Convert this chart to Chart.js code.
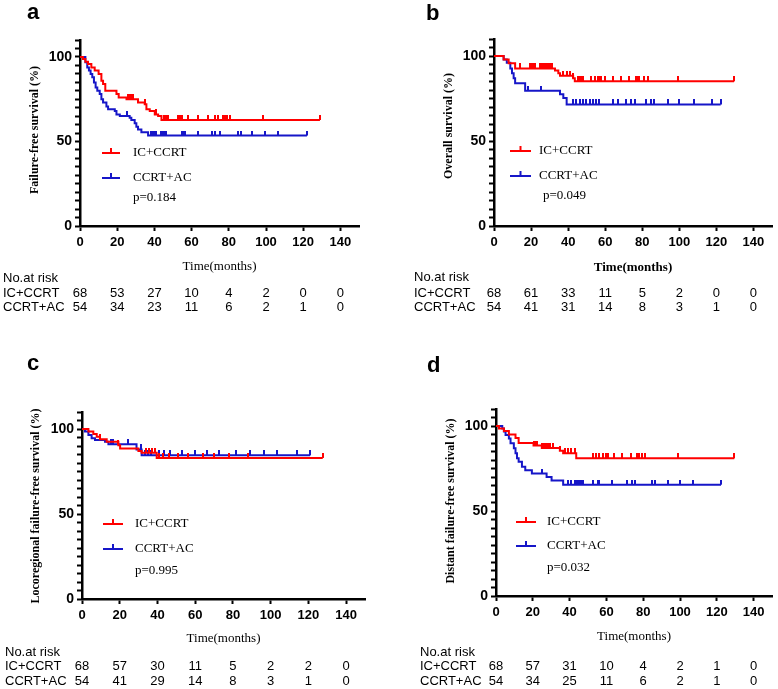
<!DOCTYPE html>
<html>
<head>
<meta charset="utf-8">
<title>Kaplan-Meier curves</title>
<script src="https://cdn.jsdelivr.net/npm/chart.js@4.4.0/dist/chart.umd.min.js"></script>
<style>
  html, body { margin: 0; padding: 0; background: #fff; }
  #wrap { position: relative; width: 778px; height: 689px; }
  canvas { position: absolute; }
</style>
</head>
<body>
<div id="wrap">
  <canvas id="chartA" width="389" height="340" style="left:0;top:0"></canvas>
  <canvas id="chartB" width="389" height="340" style="left:389px;top:0"></canvas>
  <canvas id="chartC" width="389" height="349" style="left:0;top:340px"></canvas>
  <canvas id="chartD" width="389" height="349" style="left:389px;top:340px"></canvas>
</div>
<script>
// ---- data ----
const groups = ["IC+CCRT", "CCRT+AC"];
const xTicks = [0, 20, 40, 60, 80, 100, 120, 140];

// a: failure-free survival
const ffsIcTime = [0, 1.6, 2.9, 4.3, 6.1, 7.9, 10.0, 11.5, 12.4, 13.6, 19.6, 20.8, 25, 31.2, 34.8, 35.7, 37.5, 40.2, 42, 43.8, 129];
const ffsIcSurv = [100, 98.8, 97.2, 95.8, 93.8, 91.9, 89.9, 85.9, 84, 80, 78, 76, 75, 73, 72, 69, 68, 66, 65, 62.7, 62.7];
const ffsIcCens = [26, 27, 27.6, 28.4, 35, 41, 45, 46, 47.5, 52.7, 53.6, 54.6, 58, 63.5, 69, 72.5, 74.3, 77, 78, 79, 80.5, 98.6, 129];
const ffsAcTime = [0, 2.9, 3.9, 4.8, 5.7, 6.6, 7.5, 8.4, 9.3, 10.6, 11.5, 12.4, 14.2, 15.1, 18.7, 19.6, 21.4, 26.7, 27.6, 29.4, 30.3, 31.2, 33, 36.6, 122];
const ffsAcSurv = [100, 96.8, 93.8, 91.9, 89.9, 87.9, 84.9, 81.9, 80, 78, 75, 73, 70.6, 69, 68, 66, 65, 64, 62.7, 60.7, 58.7, 57.1, 55.5, 53.5, 53.5];
const ffsAcCens = [25, 38.4, 39.3, 40.2, 41, 43.8, 44.7, 45.6, 46.5, 54.6, 55.5, 56.4, 63.5, 70.7, 72.5, 75.2, 85, 86.8, 92.3, 99.4, 106.6, 122];
const ffsRiskIc = [68, 53, 27, 10, 4, 2, 0, 0];
const ffsRiskAc = [54, 34, 23, 11, 6, 2, 1, 0];

// b: overall survival
const osIcTime = [0, 5.2, 7.9, 11.4, 32.9, 34.7, 35.6, 42.7, 43.6, 129.5];
const osIcSurv = [100, 98, 95.7, 92.7, 91.4, 89.8, 88.4, 86.9, 85.1, 85.1];
const osIcCens = [14.1, 19.5, 20.4, 21.3, 22.2, 24.9, 25.8, 26.7, 27.6, 28.5, 29.4, 30.2, 31.1, 37.4, 39.2, 41, 42.7, 45.4, 46.3, 47.2, 48.1, 52.6, 54.4, 56.2, 57.1, 58, 59.7, 64.2, 68.7, 73.1, 76.7, 77.6, 78.5, 81.2, 83, 99.1, 129.5];
const osAcTime = [0, 5.2, 6.9, 8.8, 9.7, 10.6, 11.4, 16.8, 35.6, 37.4, 39.2, 122.3];
const osAcSurv = [100, 98, 96, 92.7, 89.8, 86.9, 84, 79.6, 77.5, 75.3, 71.5, 71.5];
const osAcCens = [18.6, 25.6, 42.6, 44.4, 46.2, 48, 49.8, 51.6, 53.3, 55.1, 56.5, 64.2, 66.9, 71.4, 74.1, 76, 82.2, 84.8, 86.6, 93.7, 99.8, 107.9, 117.8, 122.3];
const osRiskIc = [68, 61, 33, 11, 5, 2, 0, 0];
const osRiskAc = [54, 41, 31, 14, 8, 3, 1, 0];

// c: locoregional failure-free survival
const lrIcTime = [0, 3.4, 6, 7.8, 9.5, 13.1, 19.3, 20.2, 29.9, 31.6, 39.6, 127.6];
const lrIcSurv = [100, 98.5, 97, 95.5, 94, 92.5, 90.5, 88.5, 87, 86, 83, 83];
const lrIcCens = [9.5, 19.3, 34, 35.5, 37, 38.5, 41, 43, 46, 51, 56, 64, 70, 78, 88, 127.6];
const lrAcTime = [0, 1.6, 3.4, 5.1, 6.9, 12.2, 14, 28.9, 31.6, 120.9];
const lrAcSurv = [100, 98.5, 96.5, 94.5, 93.5, 92.5, 91, 88, 84.5, 84.5];
const lrAcCens = [15.5, 16.4, 24.3, 31.4, 33.2, 35, 36.7, 40.6, 43.2, 46.8, 53, 60, 66.4, 72.6, 81.4, 89.2, 96.5, 103.5, 114, 120.9];
const lrRiskIc = [68, 57, 30, 11, 5, 2, 2, 0];
const lrRiskAc = [54, 41, 29, 14, 8, 3, 1, 0];

// d: distant failure-free survival
const dmIcTime = [0, 1.6, 4.3, 7, 10.6, 12.3, 20.4, 24.9, 34.7, 36.5, 43.6, 129.5];
const dmIcSurv = [100, 98.5, 97, 95, 93, 90, 88.5, 87, 85.5, 84, 81, 81];
const dmIcCens = [20.4, 21.3, 22.2, 24.9, 25.8, 26.7, 27.6, 28.5, 29.4, 31.1, 34.7, 37.4, 39.2, 41, 42.7, 52.6, 54.4, 56.2, 58, 59.7, 60.6, 64.2, 68.7, 73.1, 76.7, 77.6, 79.4, 81.2, 99.1, 129.5];
const dmAcTime = [0, 3.4, 4.3, 5.2, 7, 7.9, 9.7, 10.6, 11.4, 12.3, 14.1, 15.9, 19.5, 27.5, 30.2, 36.5, 122.3];
const dmAcSurv = [100, 98.5, 96.7, 94.7, 92.7, 89.8, 86.9, 84, 81, 79, 76, 74, 72, 70, 68, 65.5, 65.5];
const dmAcCens = [24.9, 39.2, 41, 42.7, 43.6, 44.5, 45.4, 46.3, 47.2, 52.6, 55.3, 56.2, 63.3, 71.4, 74.1, 75.8, 84.8, 86.6, 93.7, 99.9, 107.1, 122.3];
const dmRiskIc = [68, 57, 31, 10, 4, 2, 1, 0];
const dmRiskAc = [54, 34, 25, 11, 6, 2, 1, 0];

// ---- styles ----
const RED = "#ff0000";
const BLUE = "#1616c8";
const SANS = '"Liberation Sans", Arial, sans-serif';
const SERIF = '"Liberation Serif", "Times New Roman", serif';

// small upward tick used for censored observations
function tickMark(color) {
  const c = document.createElement("canvas");
  c.width = 2;
  c.height = 10;
  const g = c.getContext("2d");
  g.fillStyle = color;
  g.fillRect(0, 0, 2, 5);
  return c;
}

function survAt(times, surv, t) {
  let s = surv[0];
  for (let i = 0; i < times.length; i++) {
    if (times[i] <= t) s = surv[i];
  }
  return s;
}

const toPoints = (times, surv) => times.map((t, i) => ({ x: t, y: surv[i] }));
const censPoints = (times, surv, cens) => cens.map(t => ({ x: t, y: survAt(times, surv, t) }));

// text, legend and risk table drawn around the plot
const kmText = {
  id: "kmText",
  afterDraw(chart, args, o) {
    const ctx = chart.ctx;
    const xs = chart.scales.x;
    ctx.save();
    ctx.fillStyle = "#000";

    ctx.font = "bold 22px " + SANS;
    ctx.textAlign = "left";
    ctx.textBaseline = "alphabetic";
    ctx.fillText(o.letter, o.letterX, o.letterY);

    // y title
    ctx.save();
    ctx.translate(o.yTitleX, o.yTitleY);
    ctx.rotate(-Math.PI / 2);
    ctx.font = "bold 12px " + SERIF;
    ctx.textAlign = "center";
    ctx.textBaseline = "middle";
    ctx.fillText(o.yTitle, 0, 0);
    ctx.restore();

    // x title
    ctx.font = (o.xTitleBold ? "bold " : "") + "13px " + SERIF;
    ctx.textAlign = "center";
    ctx.textBaseline = "middle";
    ctx.fillText("Time(months)", xs.getPixelForValue(75), o.xTitleY);

    // legend
    const colors = [RED, BLUE];
    ctx.font = "13px " + SERIF;
    ctx.textAlign = "left";
    groups.forEach((g, i) => {
      const y = o.legendY[i];
      ctx.strokeStyle = colors[i];
      ctx.lineWidth = 2;
      ctx.beginPath();
      ctx.moveTo(o.legX1, y);
      ctx.lineTo(o.legX2, y);
      const mid = (o.legX1 + o.legX2) / 2;
      ctx.moveTo(mid, y);
      ctx.lineTo(mid, y - 5);
      ctx.stroke();
      ctx.fillStyle = "#000";
      ctx.fillText(g, o.legTextX, y);
    });
    ctx.fillText(o.pText, o.pX, o.pY);

    // number at risk
    ctx.font = "13px " + SANS;
    ctx.textAlign = "left";
    ctx.fillText("No.at risk", o.riskX, o.riskY[0]);
    ctx.fillText(groups[0], o.riskX, o.riskY[1]);
    ctx.fillText(groups[1], o.riskX, o.riskY[2]);
    ctx.textAlign = "center";
    xTicks.forEach((t, i) => {
      const px = xs.getPixelForValue(t);
      ctx.fillText(String(o.riskIc[i]), px, o.riskY[1]);
      ctx.fillText(String(o.riskAc[i]), px, o.riskY[2]);
    });
    ctx.restore();
  }
};

function makeChart(id, d, box, text) {
  const W = 389;
  const H = document.getElementById(id).height;
  const yW = 40, xH = 30;
  return new Chart(document.getElementById(id), {
    type: "line",
    data: {
      datasets: [
        { data: toPoints(d.icTime, d.icSurv), borderColor: RED, borderWidth: 2, stepped: true, pointRadius: 0, fill: false },
        { data: censPoints(d.icTime, d.icSurv, d.icCens), showLine: false, pointStyle: tickMark(RED), pointRadius: 5 },
        { data: toPoints(d.acTime, d.acSurv), borderColor: BLUE, borderWidth: 2, stepped: true, pointRadius: 0, fill: false },
        { data: censPoints(d.acTime, d.acSurv, d.acCens), showLine: false, pointStyle: tickMark(BLUE), pointRadius: 5 }
      ]
    },
    options: {
      responsive: false,
      animation: false,
      layout: {
        padding: { left: box.left - yW, top: box.top, right: W - box.right, bottom: H - box.bottom - xH }
      },
      plugins: {
        legend: { display: false },
        tooltip: { enabled: false },
        kmText: text
      },
      scales: {
        x: {
          type: "linear",
          min: 0,
          max: 150,
          afterFit: s => { s.height = xH; },
          border: { color: "#000", width: 2.5 },
          grid: { drawOnChartArea: false, tickLength: 5, tickWidth: 2, tickColor: "#000" },
          ticks: {
            stepSize: 20,
            includeBounds: false,
            autoSkip: false,
            maxRotation: 0,
            color: "#000",
            padding: 4,
            font: { family: SANS, weight: "bold", size: 13 }
          }
        },
        y: {
          min: 0,
          max: 110,
          afterFit: s => { s.width = yW; },
          border: { color: "#000", width: 2.5 },
          grid: { drawOnChartArea: false, tickLength: 5, tickWidth: 2, tickColor: "#000" },
          ticks: {
            stepSize: 5,
            autoSkip: false,
            color: "#000",
            padding: 3,
            font: { family: SANS, weight: "bold", size: 14 },
            callback: v => (v % 50 === 0 && v <= 100 ? v : "")
          }
        }
      }
    },
    plugins: [kmText]
  });
}

makeChart("chartA",
  { icTime: ffsIcTime, icSurv: ffsIcSurv, icCens: ffsIcCens, acTime: ffsAcTime, acSurv: ffsAcSurv, acCens: ffsAcCens },
  { left: 80, top: 40, right: 359, bottom: 226 },
  { letter: "a", letterX: 27, letterY: 19, yTitle: "Failure-free survival (%)", yTitleX: 35, yTitleY: 130,
    xTitleY: 267, xTitleBold: false, legX1: 102, legX2: 120, legTextX: 133, legendY: [153, 178],
    pText: "p=0.184", pX: 133, pY: 198, riskX: 3, riskY: [278, 293, 307], riskIc: ffsRiskIc, riskAc: ffsRiskAc });

makeChart("chartB",
  { icTime: osIcTime, icSurv: osIcSurv, icCens: osIcCens, acTime: osAcTime, acSurv: osAcSurv, acCens: osAcCens },
  { left: 105, top: 39, right: 385, bottom: 226 },
  { letter: "b", letterX: 37, letterY: 20, yTitle: "Overall survival (%)", yTitleX: 60, yTitleY: 126,
    xTitleY: 268, xTitleBold: true, legX1: 121, legX2: 142, legTextX: 150, legendY: [151, 176],
    pText: "p=0.049", pX: 154, pY: 196, riskX: 25, riskY: [277, 293, 307], riskIc: osRiskIc, riskAc: osRiskAc });

makeChart("chartC",
  { icTime: lrIcTime, icSurv: lrIcSurv, icCens: lrIcCens, acTime: lrAcTime, acSurv: lrAcSurv, acCens: lrAcCens },
  { left: 82, top: 72, right: 365, bottom: 259 },
  { letter: "c", letterX: 27, letterY: 30, yTitle: "Locoregional failure-free survival (%)", yTitleX: 36, yTitleY: 166,
    xTitleY: 299, xTitleBold: false, legX1: 103, legX2: 123, legTextX: 135, legendY: [184, 209],
    pText: "p=0.995", pX: 135, pY: 231, riskX: 5, riskY: [312, 326, 341], riskIc: lrRiskIc, riskAc: lrRiskAc });

makeChart("chartD",
  { icTime: dmIcTime, icSurv: dmIcSurv, icCens: dmIcCens, acTime: dmAcTime, acSurv: dmAcSurv, acCens: dmAcCens },
  { left: 107, top: 69, right: 387, bottom: 256 },
  { letter: "d", letterX: 38, letterY: 32, yTitle: "Distant failure-free survival (%)", yTitleX: 62, yTitleY: 161,
    xTitleY: 297, xTitleBold: false, legX1: 127, legX2: 147, legTextX: 158, legendY: [182, 206],
    pText: "p=0.032", pX: 158, pY: 228, riskX: 31, riskY: [312, 326, 341], riskIc: dmRiskIc, riskAc: dmRiskAc });
</script>
</body>
</html>
